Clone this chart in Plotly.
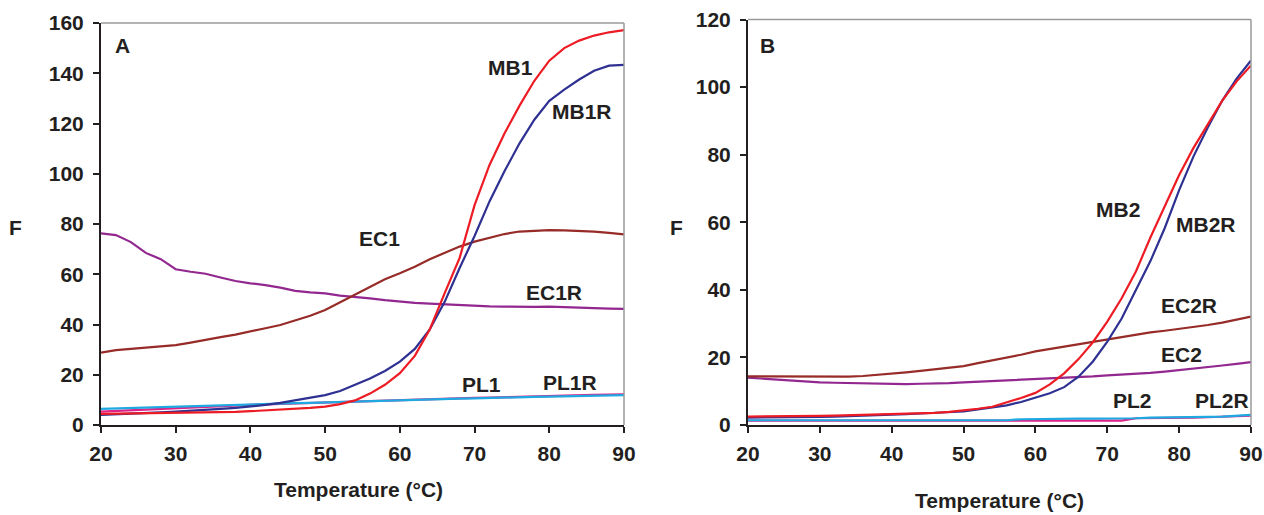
import plotly.graph_objects as go

T = list(range(20, 91, 2))

# Panel A
MB1 = [4.4, 4.5, 4.6, 4.7, 4.8, 4.8, 4.9, 5.0, 5.0, 5.2, 5.5, 5.8, 6.0, 6.4, 6.8, 7.3, 8.3, 9.8,
       12.5, 16.0, 20.6, 27.5, 38.0, 52.5, 66.5, 87.5, 103.5, 116.0, 127.0, 137.0, 145.0, 150.0,
       153.0, 155.0, 156.3, 157.2]
MB1R = [4.0, 4.2, 4.5, 4.8, 5.0, 5.3, 5.6, 6.0, 6.4, 6.8, 7.3, 8.0, 8.8, 9.8, 11.0, 11.9, 13.5,
        16.0, 18.5, 21.5, 25.2, 30.3, 38.0, 49.0, 62.5, 75.2, 89.0, 101.0, 112.0, 121.5, 129.0,
        133.5, 137.5, 141.0, 143.0, 143.3]
EC1 = [28.8, 29.8, 30.3, 30.8, 31.5, 31.8, 32.8, 34.0, 35.0, 36.0, 37.1, 38.5, 39.8, 41.5, 43.5,
       45.8, 48.8, 52.0, 55.0, 58.0, 60.4, 63.0, 66.0, 68.5, 71.0, 73.0, 74.5, 76.0, 77.0, 77.3,
       77.6, 77.5, 77.3, 77.0, 76.5, 75.9]
EC1R = [76.3, 75.6, 72.8, 68.5, 66.0, 62.0, 61.0, 60.2, 58.7, 57.3, 56.4, 55.7, 54.7, 53.4, 52.8,
        52.4, 51.5, 51.0, 50.4, 49.7, 49.1, 48.6, 48.3, 48.0, 47.6, 47.3, 47.2, 47.1, 47.0, 47.0,
        47.1, 46.8, 46.7, 46.5, 46.3, 46.2]
PL1 = [5.3, 5.6, 5.8, 6.1, 6.4, 6.6, 6.9, 7.2, 7.5, 7.8, 8.0, 8.2, 8.4, 8.6, 8.8, 9.0, 9.2, 9.4,
       9.6, 9.8, 10.0, 10.2, 10.3, 10.5, 10.6, 10.8, 10.9, 11.1, 11.2, 11.4, 11.5, 11.7, 11.8,
       12.0, 12.1, 12.2]
PL1R = [6.4, 6.6, 6.8, 7.0, 7.1, 7.3, 7.5, 7.7, 7.9, 8.0, 8.2, 8.4, 8.5, 8.7, 8.8, 9.0, 9.2, 9.4,
        9.6, 9.8, 10.0, 10.1, 10.2, 10.4, 10.5, 10.6, 10.8, 10.9, 11.0, 11.2, 11.3, 11.4, 11.6,
        11.7, 11.8, 11.9]

# Panel B
MB2 = [2.5, 2.5, 2.6, 2.6, 2.7, 2.7, 2.8, 2.9, 3.0, 3.0, 3.1, 3.2, 3.4, 3.6, 3.9, 4.3, 4.8, 5.4,
       6.6, 8.0, 9.5, 12.0, 15.3, 19.5, 24.5, 30.6, 37.5, 45.5, 55.5, 65.0, 74.0, 82.0, 89.0,
       96.0, 101.7, 106.4]
MB2R = [2.2, 2.2, 2.3, 2.3, 2.4, 2.4, 2.5, 2.6, 2.7, 2.8, 3.0, 3.2, 3.4, 3.6, 3.8, 4.0, 4.6, 5.2,
        5.8, 6.8, 8.2, 9.4, 11.2, 14.3, 18.8, 24.7, 31.5, 40.0, 48.5, 58.3, 69.5, 79.5, 88.1,
        96.0, 102.5, 107.9]
EC2R = [14.4, 14.4, 14.3, 14.3, 14.2, 14.2, 14.2, 14.3, 14.5, 14.8, 15.2, 15.6, 16.0, 16.4, 16.9,
        17.4, 18.3, 19.1, 19.9, 20.8, 21.8, 22.5, 23.1, 23.8, 24.5, 25.3, 26.0, 26.8, 27.4, 27.9,
        28.4, 29.0, 29.6, 30.3, 31.1, 32.1]
EC2 = [14.0, 13.7, 13.4, 13.0, 12.8, 12.6, 12.5, 12.4, 12.2, 12.1, 12.0, 12.1, 12.2, 12.2, 12.4,
       12.6, 12.8, 13.0, 13.1, 13.3, 13.4, 13.6, 13.8, 14.1, 14.4, 14.7, 14.9, 15.1, 15.4, 15.8,
       16.2, 16.6, 17.1, 17.6, 18.1, 18.6]
PL2 = [1.3, 1.3, 1.3, 1.3, 1.3, 1.3, 1.3, 1.3, 1.3, 1.3, 1.3, 1.3, 1.3, 1.3, 1.3, 1.3, 1.3, 1.3,
       1.3, 1.2, 1.2, 1.2, 1.2, 1.2, 1.2, 1.2, 1.3, 2.0, 2.0, 2.1, 2.1, 2.2, 2.3, 2.4, 2.6, 2.8]
PL2R = [1.4, 1.4, 1.4, 1.4, 1.4, 1.4, 1.4, 1.4, 1.4, 1.4, 1.4, 1.4, 1.4, 1.4, 1.4, 1.4, 1.4, 1.4,
        1.4, 1.7, 1.8, 1.8, 1.8, 1.9, 1.9, 1.9, 2.0, 2.0, 2.2, 2.2, 2.3, 2.3, 2.4, 2.5, 2.7, 3.0]

X_TICKS = [20, 30, 40, 50, 60, 70, 80, 90]
Y_TICKS_A = [0, 20, 40, 60, 80, 100, 120, 140, 160]
Y_TICKS_B = [0, 20, 40, 60, 80, 100, 120]

RED = "#ED1C24"
BLUE = "#2E3192"
BROWN = "#962B28"
PURPLE = "#92278F"
CYAN = "#1FA9E1"
MAGENTA = "#E0218A"

FONT = "Liberation Sans, Arial, sans-serif"

fig = go.Figure()

def add(x, y, color, name, xa, ya):
    fig.add_trace(go.Scatter(x=x, y=y, mode="lines", name=name, showlegend=False,
                             line=dict(color=color, width=2.2), xaxis=xa, yaxis=ya))

# Panel A traces
add(T, EC1R, PURPLE, "EC1R", "x", "y")
add(T, EC1, BROWN, "EC1", "x", "y")
add(T, PL1, MAGENTA, "PL1", "x", "y")
add(T, PL1R, CYAN, "PL1R", "x", "y")
add(T, MB1R, BLUE, "MB1R", "x", "y")
add(T, MB1, RED, "MB1", "x", "y")

# Panel B traces
add(T, EC2, PURPLE, "EC2", "x2", "y2")
add(T, EC2R, BROWN, "EC2R", "x2", "y2")
add(T, PL2, MAGENTA, "PL2", "x2", "y2")
add(T, PL2R, CYAN, "PL2R", "x2", "y2")
add(T, MB2R, BLUE, "MB2R", "x2", "y2")
add(T, MB2, RED, "MB2", "x2", "y2")

W, H = 1264, 515
tickfont = dict(family=FONT, size=21, color="#231F20", weight="bold")

def xax(domain, anchor):
    return dict(domain=domain, anchor=anchor, range=[20, 90], tickvals=X_TICKS,
                showgrid=False, zeroline=False, showline=True, linecolor="#231F20",
                linewidth=2, ticks="outside", ticklen=6, tickwidth=2, tickcolor="#231F20",
                ticklabelstandoff=3,
                tickfont=tickfont, fixedrange=True, automargin=False)

def yax(domain, anchor, rng, tv):
    return dict(domain=domain, anchor=anchor, range=rng, tickvals=tv,
                showgrid=False, zeroline=False, showline=True, linecolor="#231F20",
                linewidth=2, ticks="outside", ticklen=6, tickwidth=2, tickcolor="#231F20",
                ticklabelstandoff=5,
                tickfont=tickfont, fixedrange=True, automargin=False)

xA = [101 / W, 624 / W]
yA = [(H - 425) / H, (H - 23) / H]
xB = [748 / W, 1251 / W]
yB = [(H - 425) / H, (H - 19.5) / H]

label_font = dict(family=FONT, size=21, color="#231F20", weight="bold")

annotations = []
def lab(text, x, y, xref, yref):
    annotations.append(dict(text=text, x=x, y=y, xref=xref, yref=yref, showarrow=False,
                            font=label_font, xanchor="center", yanchor="middle"))

lab("A", 22.9, 151.2, "x", "y")
lab("MB1", 74.8, 142.1, "x", "y")
lab("MB1R", 84.4, 124.6, "x", "y")
lab("EC1", 57.3, 74.4, "x", "y")
lab("EC1R", 80.6, 52.9, "x", "y")
lab("PL1", 70.9, 16.3, "x", "y")
lab("PL1R", 82.8, 17.1, "x", "y")

lab("B", 22.7, 112.3, "x2", "y2")
lab("MB2", 71.5, 63.8, "x2", "y2")
lab("MB2R", 83.7, 59.3, "x2", "y2")
lab("EC2R", 81.4, 35.4, "x2", "y2")
lab("EC2", 80.3, 20.9, "x2", "y2")
lab("PL2", 73.5, 7.3, "x2", "y2")
lab("PL2R", 85.9, 7.3, "x2", "y2")

# axis titles as paper annotations
lab("F", 15 / W, (H - 228) / H, "paper", "paper")
lab("F", 676 / W, (H - 228) / H, "paper", "paper")
lab("Temperature (°C)", 358 / W, (H - 489) / H, "paper", "paper")
lab("Temperature (°C)", 999 / W, (H - 500) / H, "paper", "paper")

shapes = []
for xr, yr in (("x domain", "y domain"), ("x2 domain", "y2 domain")):
    shapes.append(dict(type="line", xref=xr, yref=yr, x0=0, x1=1, y0=1, y1=1,
                       line=dict(color="#9A9A9A", width=1.5)))
    shapes.append(dict(type="line", xref=xr, yref=yr, x0=1, x1=1, y0=0, y1=1,
                       line=dict(color="#9A9A9A", width=1.5)))

fig.update_layout(
    width=W, height=H, margin=dict(l=0, r=0, t=0, b=0, autoexpand=False),
    paper_bgcolor="white", plot_bgcolor="white",
    xaxis=xax(xA, "y"), yaxis=yax(yA, "x", [0, 160], Y_TICKS_A),
    xaxis2=xax(xB, "y2"), yaxis2=yax(yB, "x2", [0, 120], Y_TICKS_B),
    annotations=annotations, shapes=shapes,
)

fig.write_html("out.html", config={"displayModeBar": False},
               post_script="document.body.style.margin='0px';document.body.style.overflow='hidden';")
